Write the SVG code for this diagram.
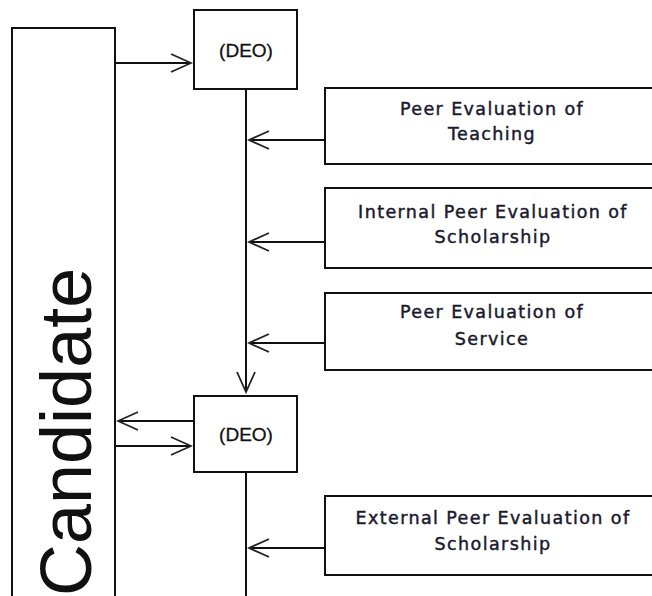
<svg xmlns="http://www.w3.org/2000/svg" width="652" height="596" viewBox="0 0 652 596">
<style>
.box{fill:#fff;stroke:#111;stroke-width:2}
.ln{fill:none;stroke:#111;stroke-width:2}
.lbl{font-family:"DejaVu Sans",Verdana,sans-serif;font-size:17.5px;letter-spacing:1.4px;fill:#1a1a2e;stroke:#1a1a2e;stroke-width:0.45;text-anchor:middle}
.deo{font-family:"Liberation Sans",Arial,sans-serif;font-size:19px;fill:#111;stroke:#111;stroke-width:0.3;text-anchor:middle}
.cand{font-family:"Liberation Sans",Arial,sans-serif;font-size:72px;fill:#111}
</style>
<defs>
<marker id="ah" markerUnits="userSpaceOnUse" viewBox="-22 -11 24 22" markerWidth="24" markerHeight="22" refX="0" refY="0" orient="auto">
<path d="M-20,-9 L0,0 L-20,9" fill="none" stroke="#222" stroke-width="1.8"/>
</marker>
</defs>
<g id="candidate">
<rect class="box" x="12" y="28" width="103" height="600"/>
<text class="cand" transform="translate(91,596) rotate(-90)">Candidate</text>
</g>
<g id="deo1">
<rect class="box" x="194" y="10" width="103" height="79"/>
<text class="deo" x="246" y="57">(DEO)</text>
</g>
<g id="deo2">
<rect class="box" x="194" y="396" width="103" height="76"/>
<text class="deo" x="246" y="441">(DEO)</text>
</g>
<g id="peer-teaching">
<rect class="box" x="325" y="88" width="340" height="76"/>
<text class="lbl" x="492" y="115">Peer Evaluation of</text>
<text class="lbl" x="492" y="140">Teaching</text>
</g>
<g id="internal-scholarship">
<rect class="box" x="325" y="188" width="340" height="80"/>
<text class="lbl" x="493" y="218">Internal Peer Evaluation of</text>
<text class="lbl" x="493" y="243">Scholarship</text>
</g>
<g id="peer-service">
<rect class="box" x="325" y="293" width="340" height="77"/>
<text class="lbl" x="492" y="318">Peer Evaluation of</text>
<text class="lbl" x="492" y="345">Service</text>
</g>
<g id="external-scholarship">
<rect class="box" x="325" y="496" width="340" height="79"/>
<text class="lbl" x="493" y="524">External Peer Evaluation of</text>
<text class="lbl" x="493" y="550">Scholarship</text>
</g>
<g id="connectors">
<line class="ln" x1="115" y1="63" x2="191" y2="63" marker-end="url(#ah)"/>
<line class="ln" x1="246" y1="89" x2="246" y2="392" marker-end="url(#ah)"/>
<line class="ln" x1="325" y1="140" x2="249" y2="140" marker-end="url(#ah)"/>
<line class="ln" x1="325" y1="242" x2="249" y2="242" marker-end="url(#ah)"/>
<line class="ln" x1="325" y1="343" x2="249" y2="343" marker-end="url(#ah)"/>
<line class="ln" x1="194" y1="421" x2="118" y2="421" marker-end="url(#ah)"/>
<line class="ln" x1="115" y1="446" x2="191" y2="446" marker-end="url(#ah)"/>
<line class="ln" x1="246" y1="472" x2="246" y2="600"/>
<line class="ln" x1="325" y1="548" x2="249" y2="548" marker-end="url(#ah)"/>
</g>
</svg>
